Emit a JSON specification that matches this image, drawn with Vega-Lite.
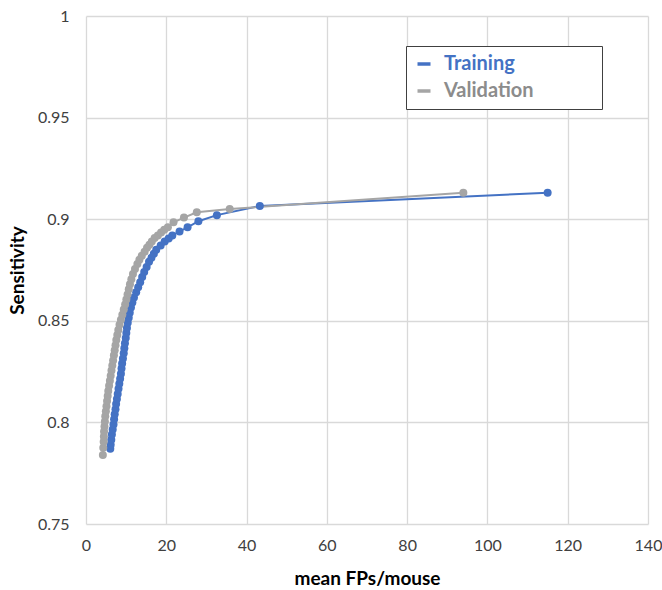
{
  "$schema": "https://vega.github.io/schema/vega-lite/v6.json",
  "width": 562,
  "height": 508,
  "autosize": "none",
  "padding": {"left": 86, "top": 16, "right": 14, "bottom": 66},
  "background": "white",
  "config": {
    "view": {"stroke": null},
    "font": "Lato",
    "axis": {
      "grid": true,
      "gridColor": "#d9d9d9",
      "gridWidth": 1.3,
      "domain": false,
      "ticks": false,
      "labelFont": "Lato",
      "labelFontSize": 16,
      "labelColor": "#404040",
      "titleFont": "Lato",
      "titleFontSize": 19,
      "titleFontWeight": "bold",
      "titleColor": "#000000"
    }
  },
  "data": {
    "values": [
      {"s": "Training", "x": 6.05, "y": 0.787},
      {"s": "Training", "x": 6.15, "y": 0.789},
      {"s": "Training", "x": 6.3, "y": 0.7915},
      {"s": "Training", "x": 6.45, "y": 0.794},
      {"s": "Training", "x": 6.65, "y": 0.7965},
      {"s": "Training", "x": 6.85, "y": 0.799},
      {"s": "Training", "x": 7.0, "y": 0.8015},
      {"s": "Training", "x": 7.15, "y": 0.804},
      {"s": "Training", "x": 7.35, "y": 0.8065},
      {"s": "Training", "x": 7.5, "y": 0.809},
      {"s": "Training", "x": 7.7, "y": 0.8115},
      {"s": "Training", "x": 7.9, "y": 0.814},
      {"s": "Training", "x": 8.1, "y": 0.8165},
      {"s": "Training", "x": 8.3, "y": 0.819},
      {"s": "Training", "x": 8.5, "y": 0.8215},
      {"s": "Training", "x": 8.7, "y": 0.824},
      {"s": "Training", "x": 8.85, "y": 0.8265},
      {"s": "Training", "x": 9.0, "y": 0.829},
      {"s": "Training", "x": 9.2, "y": 0.8315},
      {"s": "Training", "x": 9.4, "y": 0.834},
      {"s": "Training", "x": 9.55, "y": 0.8365},
      {"s": "Training", "x": 9.7, "y": 0.839},
      {"s": "Training", "x": 9.9, "y": 0.8415},
      {"s": "Training", "x": 10.05, "y": 0.844},
      {"s": "Training", "x": 10.2, "y": 0.8465},
      {"s": "Training", "x": 10.4, "y": 0.849},
      {"s": "Training", "x": 10.65, "y": 0.8515},
      {"s": "Training", "x": 10.9, "y": 0.854},
      {"s": "Training", "x": 11.2, "y": 0.8565},
      {"s": "Training", "x": 11.55, "y": 0.859},
      {"s": "Training", "x": 11.95, "y": 0.8615},
      {"s": "Training", "x": 12.5, "y": 0.864},
      {"s": "Training", "x": 13.0, "y": 0.8665},
      {"s": "Training", "x": 13.5, "y": 0.869},
      {"s": "Training", "x": 14.0, "y": 0.8715},
      {"s": "Training", "x": 14.5, "y": 0.874},
      {"s": "Training", "x": 15.1, "y": 0.8765},
      {"s": "Training", "x": 15.7, "y": 0.879},
      {"s": "Training", "x": 16.3, "y": 0.881},
      {"s": "Training", "x": 16.9, "y": 0.883},
      {"s": "Training", "x": 17.5, "y": 0.885},
      {"s": "Training", "x": 18.6, "y": 0.887},
      {"s": "Training", "x": 19.6, "y": 0.889},
      {"s": "Training", "x": 20.6, "y": 0.8905},
      {"s": "Training", "x": 21.5, "y": 0.892},
      {"s": "Training", "x": 23.3, "y": 0.894},
      {"s": "Training", "x": 25.3, "y": 0.896},
      {"s": "Training", "x": 28.0, "y": 0.899},
      {"s": "Training", "x": 32.6, "y": 0.902},
      {"s": "Training", "x": 43.3, "y": 0.9065},
      {"s": "Training", "x": 115, "y": 0.913},
      {"s": "Validation", "x": 4.2, "y": 0.784},
      {"s": "Validation", "x": 4.3, "y": 0.7875},
      {"s": "Validation", "x": 4.4, "y": 0.7905},
      {"s": "Validation", "x": 4.45, "y": 0.793},
      {"s": "Validation", "x": 4.5, "y": 0.7955},
      {"s": "Validation", "x": 4.6, "y": 0.798},
      {"s": "Validation", "x": 4.7, "y": 0.8005},
      {"s": "Validation", "x": 4.8, "y": 0.803},
      {"s": "Validation", "x": 4.95, "y": 0.8055},
      {"s": "Validation", "x": 5.1, "y": 0.808},
      {"s": "Validation", "x": 5.25, "y": 0.8105},
      {"s": "Validation", "x": 5.4, "y": 0.813},
      {"s": "Validation", "x": 5.55, "y": 0.8155},
      {"s": "Validation", "x": 5.75, "y": 0.818},
      {"s": "Validation", "x": 5.95, "y": 0.8205},
      {"s": "Validation", "x": 6.15, "y": 0.823},
      {"s": "Validation", "x": 6.35, "y": 0.8255},
      {"s": "Validation", "x": 6.55, "y": 0.828},
      {"s": "Validation", "x": 6.75, "y": 0.8305},
      {"s": "Validation", "x": 6.95, "y": 0.833},
      {"s": "Validation", "x": 7.15, "y": 0.8355},
      {"s": "Validation", "x": 7.35, "y": 0.838},
      {"s": "Validation", "x": 7.55, "y": 0.8405},
      {"s": "Validation", "x": 7.8, "y": 0.843},
      {"s": "Validation", "x": 8.05, "y": 0.8455},
      {"s": "Validation", "x": 8.35, "y": 0.848},
      {"s": "Validation", "x": 8.7, "y": 0.8505},
      {"s": "Validation", "x": 9.05, "y": 0.853},
      {"s": "Validation", "x": 9.4, "y": 0.8555},
      {"s": "Validation", "x": 9.75, "y": 0.858},
      {"s": "Validation", "x": 10.05, "y": 0.8605},
      {"s": "Validation", "x": 10.35, "y": 0.863},
      {"s": "Validation", "x": 10.65, "y": 0.8655},
      {"s": "Validation", "x": 10.95, "y": 0.868},
      {"s": "Validation", "x": 11.3, "y": 0.8705},
      {"s": "Validation", "x": 11.7, "y": 0.873},
      {"s": "Validation", "x": 12.2, "y": 0.8755},
      {"s": "Validation", "x": 12.8, "y": 0.878},
      {"s": "Validation", "x": 13.3, "y": 0.88},
      {"s": "Validation", "x": 13.9, "y": 0.882},
      {"s": "Validation", "x": 14.6, "y": 0.884},
      {"s": "Validation", "x": 15.2, "y": 0.886},
      {"s": "Validation", "x": 15.8, "y": 0.8874},
      {"s": "Validation", "x": 16.4, "y": 0.889},
      {"s": "Validation", "x": 17.1, "y": 0.8907},
      {"s": "Validation", "x": 17.9, "y": 0.892},
      {"s": "Validation", "x": 18.7, "y": 0.8934},
      {"s": "Validation", "x": 19.5, "y": 0.8948},
      {"s": "Validation", "x": 20.4, "y": 0.896},
      {"s": "Validation", "x": 21.8, "y": 0.8985},
      {"s": "Validation", "x": 24.4, "y": 0.9008},
      {"s": "Validation", "x": 27.6, "y": 0.9034},
      {"s": "Validation", "x": 35.8, "y": 0.905},
      {"s": "Validation", "x": 94, "y": 0.913}
    ]
  },
  "encoding": {
    "x": {
      "field": "x",
      "type": "quantitative",
      "scale": {"domain": [0, 140], "nice": false, "zero": false},
      "axis": {
        "values": [0, 20, 40, 60, 80, 100, 120, 140],
        "format": "d",
        "title": "mean FPs/mouse",
        "labelPadding": 13,
        "titlePadding": 16,
        "labelFlush": false
      }
    },
    "y": {
      "field": "y",
      "type": "quantitative",
      "scale": {"domain": [0.75, 1], "nice": false, "zero": false},
      "axis": {
        "values": [0.75, 0.8, 0.85, 0.9, 0.95, 1],
        "format": "~g",
        "title": "Sensitivity",
        "labelPadding": 17,
        "titlePadding": 10
      }
    },
    "color": {
      "field": "s",
      "type": "nominal",
      "scale": {"domain": ["Training", "Validation"], "range": ["#4472C4", "#A5A5A5"]},
      "legend": {
        "orient": "none",
        "legendX": 320,
        "legendY": 30,
        "title": null,
        "padding": 8,
        "strokeColor": "#404040",
        "fillColor": "white",
        "symbolType": "stroke",
        "symbolSize": 169,
        "symbolStrokeWidth": 3.5,
        "labelFont": "Lato",
        "labelFontSize": 20,
        "labelFontWeight": "bold",
        "labelOffset": 10,
        "rowPadding": 7,
        "labelLimit": 400,
        "labelExpr": "datum.label + '\u2003\u2003\u2003\u2003\u2060'",
        "encode": {
          "labels": {
            "update": {
              "fill": {"signal": "datum.value === 'Training' ? '#4472C4' : '#8c8c8c'"}
            }
          }
        }
      }
    }
  },
  "layer": [
    {"mark": {"type": "line", "strokeWidth": 2}},
    {"mark": {"type": "point", "filled": true, "size": 64, "opacity": 1}}
  ]
}
